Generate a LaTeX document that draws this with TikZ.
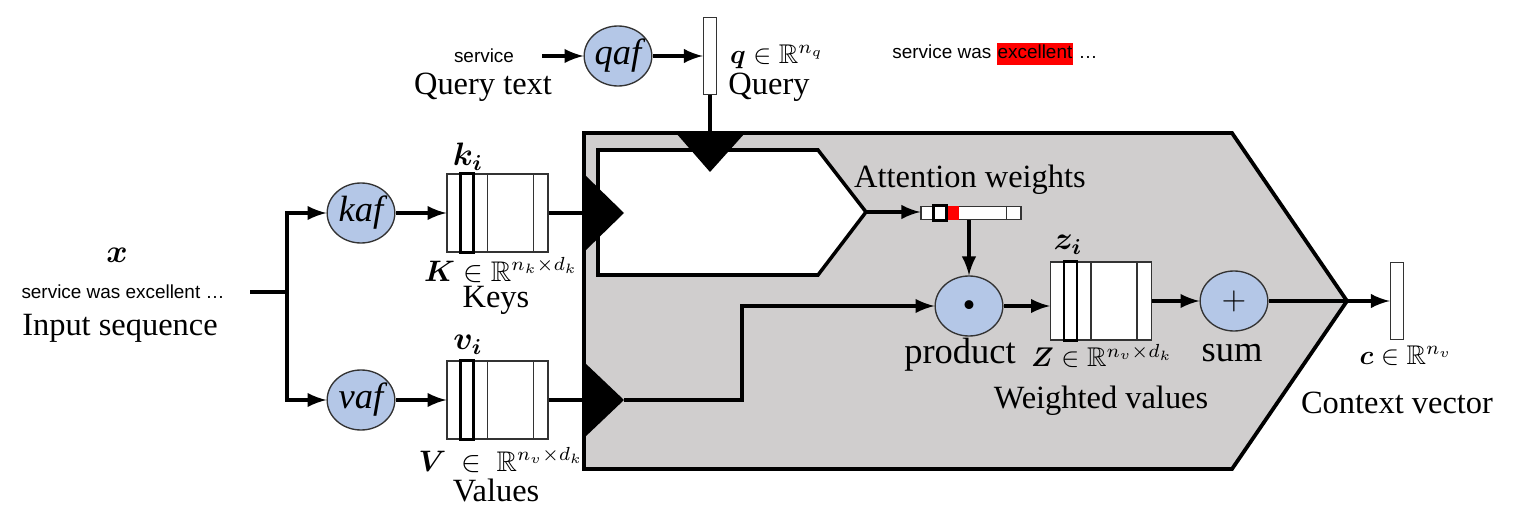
\documentclass[tikz,border=0pt]{standalone}
\usepackage{amsmath,amssymb}
\usepackage{fontspec}
\setmainfont{Liberation Serif}
\setsansfont{Liberation Sans}
\usepackage{xcolor}
\usetikzlibrary{shapes.geometric, arrows, calc}
\definecolor{fnblue}{HTML}{B4C7E7}
\definecolor{boxgray}{HTML}{D0CECE}
\tikzstyle{flow} = [line width=1.4pt,->,>=latex]
\tikzstyle{wire} = [line width=1.4pt]

% matrix block: name, x, y
\newcommand{\matblock}[3]{%
  \node[mat] (#1) at (#2,#3) {};
  \foreach \dx in {41,87}
    \draw[thinline] ($(#1.north west)+(\dx,0)$) -- ($(#1.south west)+(\dx,0)$);
  \draw[col] ($(#1.north west)+(14,0)$) rectangle ($(#1.south west)+(27,0)$);
}

\begin{document}
\begin{tikzpicture}
        [
            x=0.013cm, y=-0.013cm,
            font=\fontsize{12}{14}\selectfont,
            fn/.style={ellipse,draw=black!80,fill=fnblue,line width=0.5pt,minimum width=0.88cm,minimum height=0.78cm,inner sep=0pt,font=\fontsize{13.5}{15}\selectfont\itshape},
            mat/.style={rectangle,draw=black!80,fill=white,line width=0.5pt,minimum width=1.31cm,minimum height=1.01cm,inner sep=0pt},
            vec/.style={rectangle,draw=black!80,fill=white,line width=0.5pt,minimum width=0.17cm,minimum height=1.0cm,inner sep=0pt},
            bar/.style={rectangle,draw=black!80,fill=white,line width=0.5pt,minimum width=1.3cm,minimum height=0.17cm,inner sep=0pt},
            thinline/.style={draw=black!80,line width=0.5pt},
            col/.style={draw=black,line width=1pt},
            small/.style={font=\sffamily\fontsize{7}{8}\selectfont},
            mlbl/.style={font=\fontsize{10}{12}\selectfont},
        ]
    \useasboundingbox (0,0) rectangle (1536,528);

    % attention block
    \draw[fill=boxgray,line width=1.4pt] (584,133) -- (1232,133) -- (1347,301) -- (1232,469) -- (584,469) -- cycle;
    \draw[fill=white,line width=1.3pt] (598,150) -- (818,150) -- (866,212) -- (818,275) -- (598,275) -- cycle;
    \fill (676,133) -- (745,133) -- (710,172) -- cycle;
    \fill (584,174) -- (624,213) -- (584,252) -- cycle;
    \fill (584,362) -- (624,400) -- (584,438) -- cycle;

    \coordinate (qin) at (710,133);
    \coordinate (kin) at (584,213);
    \coordinate (vin) at (584,400);
    \coordinate (vtip) at (624,400);
    \coordinate (atip) at (866,212);
    \coordinate (ctip) at (1347,301);
    \coordinate (split) at (287,292);

    % query
    \node[small] (svc) at (484,56) {service};
    \node (qtext) at (483,87) {Query text};
    \node[fn] (qaf) at (618,56) {qaf};
    \node[vec] (qvec) at (710,56) {};
    \node[mlbl] (qlbl) at (777,57) {$\boldsymbol{q}\in\mathbb{R}^{n_q}$};
    \node (qname) at (769,87) {Query};
    \node[small] (sent) at (995,54) {service was {\setlength{\fboxsep}{0.4pt}\colorbox{red}{\rule[-1.8pt]{0pt}{7pt}excellent}} …};

    % input
    \node (xlbl) at (117,255) {$\boldsymbol{x}$};
    \node[small] (xin) at (123,292) {service was excellent …};
    \node (xname) at (120,328) {Input sequence};
    \node[fn] (kaf) at (361,213) {kaf};
    \node[fn] (vaf) at (361,400) {vaf};

    % keys and values
    \matblock{keys}{497.5}{213}
    \matblock{vals}{497.5}{400}
    \node (kilbl) at (468,157) {$\boldsymbol{k_i}$};
    \node[font=\fontsize{10.5}{13}\selectfont] (klbl) at (501,270) {$\boldsymbol{K}\in\mathbb{R}^{n_k\times d_k}$};
    \node (kname) at (496,300) {Keys};
    \node (vilbl) at (468,345) {$\boldsymbol{v_i}$};
    \node[font=\fontsize{10.5}{13}\selectfont] (vlbl) at (501,460) {$\boldsymbol{V}\ \in\ \mathbb{R}^{n_v\times d_k}$};
    \node (vname) at (496,490) {Values};

    % attention weights
    \node (aname) at (970,180) {Attention weights};
    \node[bar] (abar) at (971,213) {};
    \fill[red] ($(abar.north west)+(27,0.5)$) rectangle ($(abar.south west)+(39,-0.5)$);
    \draw[thinline] ($(abar.north west)+(86,0)$) -- ($(abar.south west)+(86,0)$);
    \draw[col] ($(abar.north west)+(13,0)$) rectangle ($(abar.south west)+(26,0)$);

    % weighted values
    \node[fn] (prod) at (969,306) {\fontsize{8}{9}\selectfont$\bullet$};
    \node[font=\fontsize{13.5}{15}\selectfont] (pname) at (960,355) {product};
    \matblock{wvals}{1101}{301}
    \node (zilbl) at (1068,245) {$\boldsymbol{z_i}$};
    \node[mlbl] (zlbl) at (1102,356) {$\boldsymbol{Z}\in\mathbb{R}^{n_v\times d_k}$};
    \node (zname) at (1101,401) {Weighted values};
    \node[fn] (sum) at (1234,301) {\fontsize{12}{14}\selectfont$+$};
    \node[font=\fontsize{13.5}{15}\selectfont] (sname) at (1232,353) {sum};

    % context
    \node[vec] (cvec) at (1397,301) {};
    \node[mlbl] (clbl) at (1406,356) {$\boldsymbol{c}\in\mathbb{R}^{n_v}$};
    \node (cname) at (1397,403) {Context vector};

    % connectors
    \draw[flow] ([xshift=7pt]svc.east) -- (qaf);
    \draw[flow] (qaf) -- (qvec);
    \draw[wire] (qvec.south) -- (qin);
    \draw[wire] ([xshift=6pt]xin.east) -- (split);
    \draw[flow] (split) |- (kaf);
    \draw[flow] (split) |- (vaf);
    \draw[flow] (kaf) -- (keys);
    \draw[flow] (vaf) -- (vals);
    \draw[wire] (keys.east) -- (kin);
    \draw[wire] (vals.east) -- (vin);
    \draw[flow] (vtip) -- ++(118,0) |- (prod);
    \draw[flow] (atip) -- (atip -| abar.west);
    \draw[flow] (abar.south -| prod) -- (prod);
    \draw[flow] (prod) -- (prod -| wvals.west);
    \draw[flow] (wvals.east |- sum) -- (sum);
    \draw[wire] (sum) -- (ctip);
    \draw[flow] (ctip) -- (cvec);
    \end{tikzpicture}
\end{document}
